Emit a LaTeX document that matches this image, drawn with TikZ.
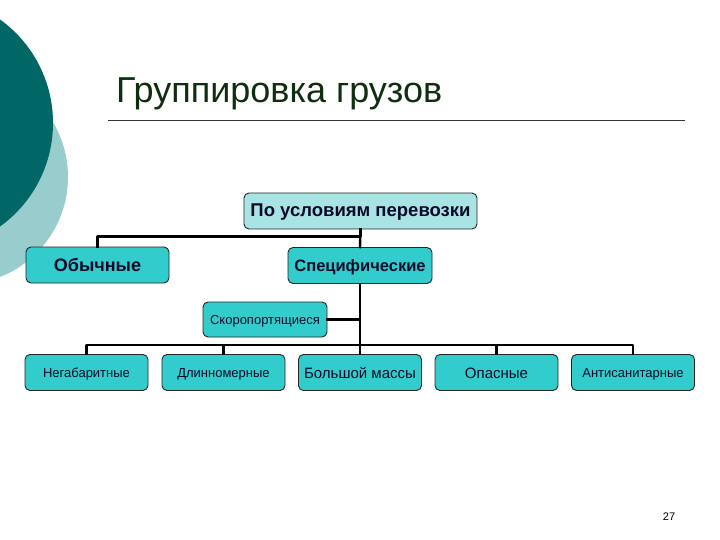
\documentclass[tikz,border=0pt]{standalone}
\usepackage{fontspec}
\setmainfont{Liberation Sans}
\usetikzlibrary{positioning}
\definecolor{darkdisc}{HTML}{006666}
\definecolor{paledisc}{HTML}{99CCCC}
\definecolor{titlegreen}{HTML}{0F2E0F}
\definecolor{boxpale}{HTML}{A8E4E4}
\definecolor{boxteal}{HTML}{33CCCC}
\definecolor{boxtext}{HTML}{0A0A28}

\tikzset{
  orgbox/.style={draw=black!85, line width=0.9pt, rounded corners=5pt, fill=boxteal,
    text=boxtext, minimum height=36pt, inner sep=1pt, text depth=0pt},
  headbox/.style={orgbox, text height=11.5pt, font=\bfseries\fontsize{18.5}{20}\selectfont},
  leafbox/.style={orgbox, minimum width=123pt, text height=10.5pt, font=\fontsize{13}{15}\selectfont},
  link/.style={line width=2.4pt, line cap=rect}
}

\begin{document}
\begin{tikzpicture}[line join=round, x=1pt, y=-1pt]
  \useasboundingbox (0,0) rectangle (720,540);
  \clip (0,0) rectangle (720,540);
  % two discs in the top-left corner
  \fill[paledisc] (-39.5,177) circle (107.5);
  \fill[darkdisc] (-74.6,123) circle (127.6);
  % heading and rule
  \node[text=titlegreen, font=\fontsize{36}{40}\selectfont, anchor=base west, inner sep=0pt]
    (title) at (116,103) {Группировка грузов};
  \draw[line width=0.8pt, black!80] (108,120) -- (685,120);

  % tree of boxes
  \node[headbox, fill=boxpale, minimum width=233pt] (cond) at (360.5,211) {По условиям перевозки};
  \node[headbox, text height=13pt, font=\bfseries\fontsize{18}{20}\selectfont, minimum width=143pt] (usual) at (97.5,265) {Обычные};
  \node[headbox, minimum width=144pt, text height=11pt, font=\bfseries\fontsize{16.5}{18}\selectfont] (spec) at (360,265.5) {Специфические};
  \node[leafbox, minimum width=124pt, minimum height=35pt] (perish) at (265,319.5) {Скоропортящиеся};
  \node[leafbox] (oversize) at (86.5,372.5) {Негабаритные};
  \node[leafbox] (longsize) at (223.5,372.5) {Длинномерные};
  \node[leafbox, text height=11.5pt, font=\fontsize{15}{17}\selectfont] (heavy) at (360,372.5) {Большой массы};
  \node[leafbox, text height=11.5pt, font=\fontsize{15}{17}\selectfont] (danger) at (496.5,372.5) {Опасные};
  \node[leafbox] (unsanit) at (633,372.5) {Антисанитарные};

  % connectors
  \draw[link] (usual.north) -- ++(0,-10) -| (cond.south);
  \draw[link] (cond.south) -- (spec.north);
  \draw[link] (spec.south) -- (heavy.north);
  \draw[link] (perish.east) -- (perish.east -| spec.south);
  \draw[link] (oversize.north) -- ++(0,-9) -| (unsanit.north);
  \foreach \n in {longsize,danger}
    \draw[link] (\n.north) -- ++(0,-9);

  % page number
  \node[font=\fontsize{11}{13}\selectfont] (pagenum) at (669,517) {27};
\end{tikzpicture}
\end{document}
